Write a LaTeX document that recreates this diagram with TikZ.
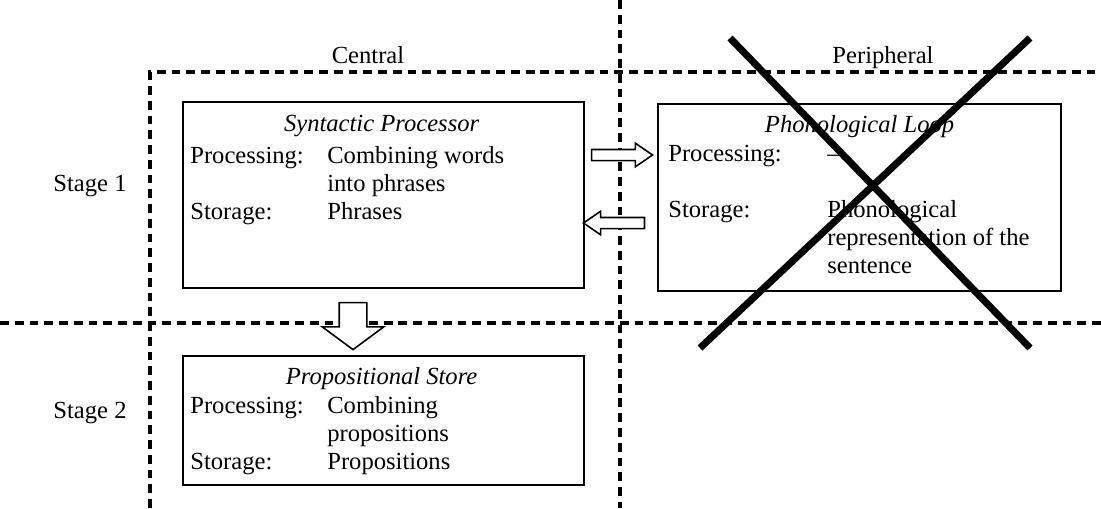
\documentclass[tikz,border=0pt]{standalone}
\usepackage{fontspec}
\setmainfont{Liberation Serif}
\usepackage{array}
\usetikzlibrary{positioning,calc,shapes.arrows}

\begin{document}
\begin{tikzpicture}[
  x=0.02cm, y=-0.02cm,
  font=\fontsize{14}{16}\selectfont,
  box/.style={draw, line width=1.3pt, fill=white, inner sep=0pt,
              minimum width=8.02cm, anchor=north west},
  title/.style={anchor=base, inner sep=0pt, font=\fontsize{14}{16}\selectfont\itshape},
  rows/.style={anchor=north west, inner sep=0pt, align=left},
  lbl/.style={anchor=base, inner sep=0pt},
  divider/.style={line width=2pt, dash pattern=on 5pt off 3.4pt},
  blockarr/.style={draw, fill=white, single arrow, line width=0.9pt, inner sep=0pt,
                   minimum height=1.22cm, inner ysep=0.095cm,
                   single arrow head extend=0.125cm, single arrow tip angle=69},
  cross/.style={line width=4pt}
]
\useasboundingbox (0,0) rectangle (1101,508);

% Dashed frame dividing stages and processors
\draw[divider] (150,508) -- (150,72) -- (1098,72);
\draw[divider] (0,323) -- (1101,323);
\draw[divider] (620,0) -- (620,508);

% Column and row labels
\node[lbl] (central) at (368,63) {Central};
\node[lbl] (periph) at (883,63) {Peripheral};
\node[lbl] (stage1) at (90,191) {Stage 1};
\node[lbl] (stage2) at (90,418) {Stage 2};

% Stage 1 boxes
\node[box, minimum height=3.72cm] (syn) at (182,101) {};
\node[title] (syntitle) at ($(syn.north)+(-2,30)$) {Syntactic Processor};
\node[rows] (synrows) at ($(syn.north west)+(8,42)$) {%
  \begin{tabular}{@{}p{2.74cm}@{}l@{}}
    Processing: & Combining words\\
                & into phrases\\
    Storage:    & Phrases
  \end{tabular}};

\node[box, minimum height=3.74cm, minimum width=8.06cm] (phon) at (657,103) {};
\node[title] (phontitle) at ($(phon.north)+(0,29)$) {Phonological Loop};
\node[rows] (phonrows) at ($(phon.north west)+(11,38)$) {%
  \begin{tabular}{@{}p{3.18cm}@{}l@{}}
    Processing: & --\\
                & \\
    Storage:    & Phonological\\
                & representation of the\\
                & sentence
  \end{tabular}};

% Stage 2 box
\node[box, minimum height=2.58cm] (prop) at (182,355) {};
\node[title] (proptitle) at ($(prop.north)+(-2,29)$) {Propositional Store};
\node[rows] (proprows) at ($(prop.north west)+(8,38)$) {%
  \begin{tabular}{@{}p{2.74cm}@{}l@{}}
    Processing: & Combining\\
                & propositions\\
    Storage:    & Propositions
  \end{tabular}};

% Block arrows between the boxes
\node[blockarr] (toloop) at (618,155) {};
\node[blockarr, rotate=180] (fromloop) at (618,223) {};
\node[blockarr, rotate=-90, minimum height=0.94cm, inner ysep=0.26cm,
      single arrow head extend=0.34cm, single arrow tip angle=107] (tostore) at (353,321) {};

% Phonological loop crossed out
\draw[cross] (730,38) -- (1030,348);
\draw[cross] (1030,38) -- (700,348);

\end{tikzpicture}
\end{document}
